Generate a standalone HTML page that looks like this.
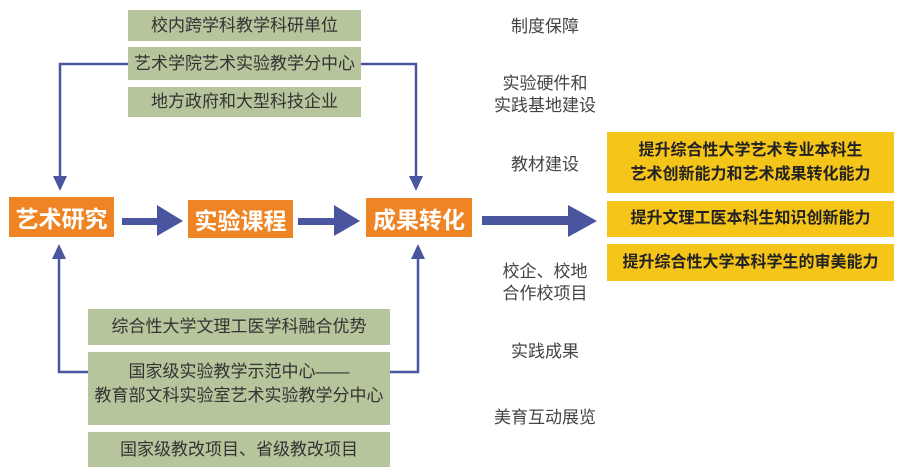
<!DOCTYPE html>
<html><head><meta charset="utf-8"><style>
body{margin:0;width:906px;height:472px;background:#fff;position:relative;overflow:hidden;font-family:"Liberation Sans","Noto Sans CJK SC",sans-serif;}
.g{position:absolute;background:#b6c59c;color:#333;font-size:17px;display:flex;align-items:center;justify-content:center;text-align:center;line-height:24px;}
.o{position:absolute;background:#ef8424;color:#fff;font-size:23px;font-weight:bold;display:flex;align-items:center;justify-content:center;}
.y{position:absolute;background:#f6c51a;color:#222;font-size:16px;font-weight:bold;display:flex;align-items:center;justify-content:center;text-align:center;line-height:24px;}
.t{position:absolute;color:#444;font-size:17px;text-align:center;width:140px;left:475px;line-height:22px;}
svg{position:absolute;left:0;top:0;}
</style></head><body>
<svg width="906" height="472">
<g stroke="#4a55a0" stroke-width="2.5" fill="none">
<polyline points="128,64 60,64 60,178"/>
<polyline points="361,64 416,64 416,178"/>
<polyline points="88,372 59,372 59,258"/>
<polyline points="390,372 418,372 418,258"/>
</g>
<g fill="#4a55a0">
<polygon points="53,176 67,176 60,191"/>
<polygon points="409,176 423,176 416,191"/>
<polygon points="52,259 66,259 59,244"/>
<polygon points="411,259 425,259 418,244"/>
<rect x="122" y="218" width="38" height="7"/>
<polygon points="157,205 157,236 183,221"/>
<rect x="298" y="218" width="38" height="7"/>
<polygon points="334,205 334,236 360,221"/>
<rect x="482" y="216" width="90" height="9"/>
<polygon points="568,205 568,237 597,221"/>
</g>
</svg>
<div class="g" style="left:128px;top:10px;width:233px;height:31px">校内跨学科教学科研单位</div>
<div class="g" style="left:128px;top:47px;width:233px;height:33px">艺术学院艺术实验教学分中心</div>
<div class="g" style="left:128px;top:87px;width:233px;height:30px">地方政府和大型科技企业</div>
<div class="o" style="left:9px;top:197px;width:105px;height:40px">艺术研究</div>
<div class="o" style="left:188px;top:200px;width:105px;height:38px">实验课程</div>
<div class="o" style="left:366px;top:198px;width:106px;height:39px">成果转化</div>
<div class="g" style="left:88px;top:309px;width:302px;height:36px">综合性大学文理工医学科融合优势</div>
<div class="g" style="left:88px;top:352px;width:302px;height:73px;align-items:flex-start;padding-top:8px;box-sizing:border-box">国家级实验教学示范中心——<br>教育部文科实验室艺术实验教学分中心</div>
<div class="g" style="left:88px;top:432px;width:302px;height:35px">国家级教改项目、省级教改项目</div>
<div class="y" style="left:607px;top:132px;width:287px;height:61px">提升综合性大学艺术专业本科生<br>艺术创新能力和艺术成果转化能力</div>
<div class="y" style="left:607px;top:201px;width:287px;height:36px">提升文理工医本科生知识创新能力</div>
<div class="y" style="left:607px;top:244px;width:287px;height:37px">提升综合性大学本科学生的审美能力</div>
<div class="t" style="top:16px">制度保障</div>
<div class="t" style="top:73px">实验硬件和<br>实践基地建设</div>
<div class="t" style="top:154px">教材建设</div>
<div class="t" style="top:261px">校企、校地<br>合作校项目</div>
<div class="t" style="top:341px">实践成果</div>
<div class="t" style="top:407px">美育互动展览</div>
</body></html>
